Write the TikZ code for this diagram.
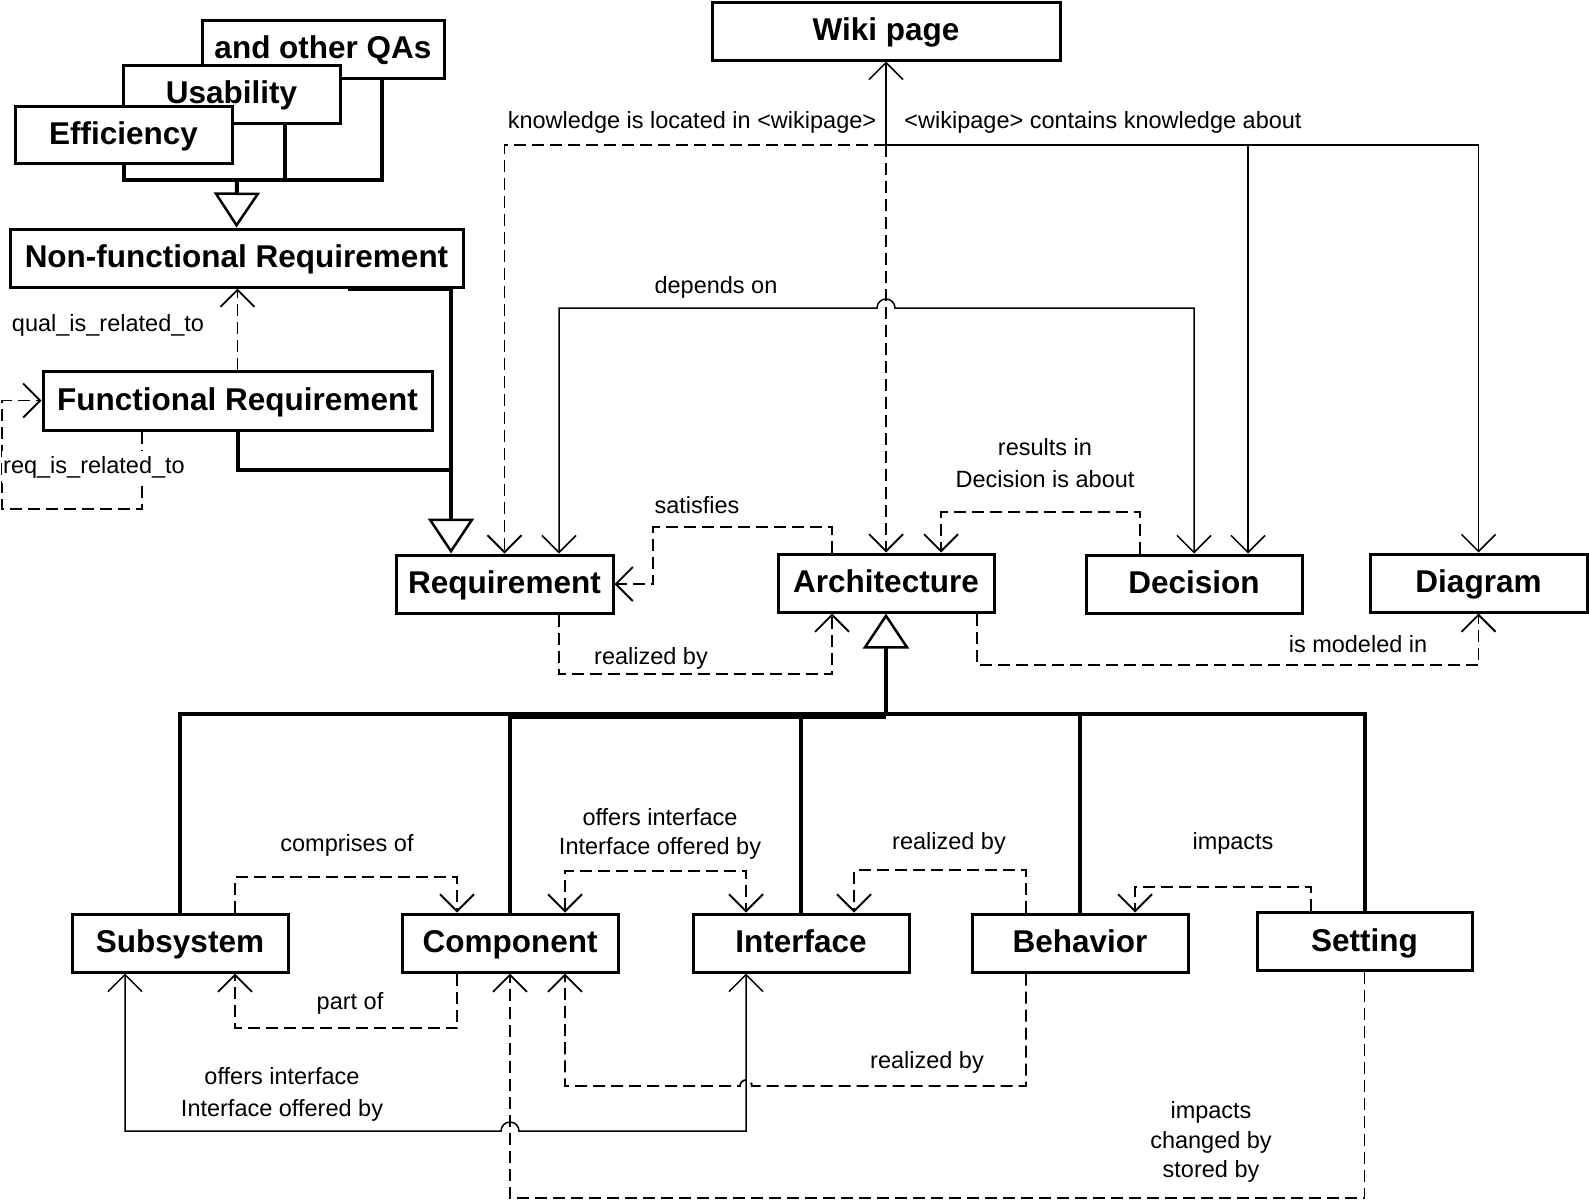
\documentclass[tikz,border=0pt]{standalone}
\usepackage{fontspec}
\setmainfont{Liberation Sans}
\usetikzlibrary{arrows.meta}
\begin{document}
\begin{tikzpicture}[x=1pt,y=-1pt,
  box/.style={draw, line width=3pt, fill=white, inner sep=0pt,
    minimum width=216pt, minimum height=58pt,
    font=\bfseries\fontsize{31.5}{36}\selectfont, text height=22pt, text depth=2.5pt},
  lbl/.style={inner sep=0pt, font=\fontsize{23.5}{30}\selectfont, text height=17pt, text depth=5pt},
  lbls/.style={inner sep=0pt, align=center},
  assoc/.style={line width=1.5pt},
  dep/.style={line width=1.8pt, dash pattern=on 12pt off 6pt},
  genline/.style={line width=4pt},
  nav/.style={-{Straight Barb[length=17pt,width=34pt]}},
  navboth/.style={{Straight Barb[length=17pt,width=34pt]}-{Straight Barb[length=17pt,width=34pt]}},
  genarrow/.style={-{Triangle[open,length=35pt,width=46pt,line width=2.5pt]}},
]
\useasboundingbox (0,0) rectangle (1589,1200);

% ---- classes ----
\node[box, minimum width=242pt] (qas) at (323,49) {and other QAs};
\node[box, minimum width=217pt] (usab) at (231.5,94) {Usability};
\node[box, minimum width=217pt, minimum height=57pt] (eff) at (123.5,134.5) {Efficiency};
\node[box, minimum width=453pt] (nfr) at (236.5,258) {Non-functional Requirement};
\node[box, minimum width=389pt, minimum height=59pt] (fr) at (237.5,400.5) {Functional Requirement};
\node[box, minimum width=348pt] (wiki) at (886,31) {Wiki page};
\node[box, minimum width=217pt] (req) at (504.5,584) {Requirement};
\node[box] (arch) at (886,583) {Architecture};
\node[box] (dec) at (1194,584) {Decision};
\node[box, minimum width=217pt] (diag) at (1478.5,583) {Diagram};
\node[box] (sub) at (180,943) {Subsystem};
\node[box] (comp) at (510,943) {Component};
\node[box] (intf) at (801,943) {Interface};
\node[box] (beh) at (1080,943) {Behavior};
\node[box, minimum width=215pt] (set) at (1364.5,941.5) {Setting};

% ---- generalisations ----
\coordinate (qj) at (237,180);
\draw[genline] (eff.south) |- (qj);
\draw[genline] ([xshift=53.5pt]usab.south) |- (qj);
\draw[genline] ([xshift=59pt]qas.south) |- (qj);
\draw[genline, genarrow] (qj) -- (nfr.north);

\coordinate (gj) at (451,470);
\draw[genline] (fr.south) |- (gj);
\draw[genline, genarrow] ([xshift=111.5pt]nfr.south) -| (gj) -- (req.north -| gj);

\coordinate (bus) at (886,714);
\coordinate (bus2) at ([yshift=-3pt]bus);
\draw[genline, genarrow] (bus) -- (arch.south);
\draw[genline] (sub.north) |- (bus);
\draw[genline] (set.north) |- (bus);
\draw[genline] (comp.north) -- (comp.north |- bus);
\draw[genline] (intf.north) -- (intf.north |- bus);
\draw[genline] (beh.north) -- (beh.north |- bus);
\draw[genline] (bus2) -- (bus2 -| comp.north);

% ---- requirement relations ----
\draw[dep, nav] (fr.north) -- (fr.north |- nfr.south);
\coordinate (rl) at (2,509);
\draw[dep, nav] ([xshift=-95.5pt]fr.south) |- (rl) |- (fr.west);

% ---- wiki page ----
\coordinate (wj) at (886,145);
\draw[assoc, nav] (wj) -- (wiki.south);
\draw[dep, nav] (wj) -| (req.north);
\draw[dep, nav] (wj) -- (arch.north);
\draw[assoc, nav] (wj) -| (diag.north);
\coordinate (dw) at ([xshift=54pt]dec.north);
\draw[assoc, nav] (wj -| dw) -- (dw);

% ---- depends on (hops over the architecture link) ----
\coordinate (rd) at ([xshift=54.5pt]req.north);
\coordinate (hp) at (877,308);
\draw[assoc, navboth] (rd) |- (hp) arc[start angle=180, end angle=0, radius=9pt] -| (dec.north);

% ---- requirement / architecture / decision / diagram ----
\coordinate (sj) at (653,527);
\draw[dep, nav] ([xshift=-54pt]arch.north) |- (sj) |- (req.east);
\coordinate (rb) at (832,674);
\draw[dep, nav] ([xshift=54.5pt]req.south) |- (rb) -- ([xshift=-54pt]arch.south);
\coordinate (da) at (941,512);
\draw[dep, nav] ([xshift=-54pt]dec.north) |- (da) -- ([xshift=55pt]arch.north);
\coordinate (im) at (1478.5,665);
\draw[dep, nav] ([xshift=91pt]arch.south) |- (im) -- (diag.south);

% ---- architecture elements ----
\coordinate (cp) at (457,877);
\draw[dep, nav] ([xshift=55pt]sub.north) |- (cp) -- ([xshift=-53pt]comp.north);
\coordinate (po) at (235,1028);
\draw[dep, nav] ([xshift=-53pt]comp.south) |- (po) -- ([xshift=55pt]sub.south);
\coordinate (oi) at (565,871);
\draw[dep, navboth] ([xshift=55pt]comp.north) -- (oi) -| ([xshift=-55pt]intf.north);
\coordinate (rz) at (854,870);
\draw[dep, nav] ([xshift=-54pt]beh.north) |- (rz) -- ([xshift=53pt]intf.north);
\coordinate (ip) at (1135,887);
\draw[dep, nav] ([xshift=-53.5pt]set.north) |- (ip) -- ([xshift=55pt]beh.north);

\coordinate (h1) at (501,1131);
\draw[assoc, navboth] ([xshift=-55pt]sub.south) |- (h1)
  arc[start angle=180, end angle=0, radius=9pt] -| ([xshift=-55pt]intf.south);
\coordinate (h2) at (752,1086);
\draw[dep, nav] ([xshift=-54pt]beh.south) |- (h2)
  arc[start angle=0, end angle=180, radius=6pt] -| ([xshift=55pt]comp.south);
\coordinate (sc) at (1364.5,1198);
\draw[dep, nav] (set.south) |- (comp.south |- sc) -- (comp.south);

% ---- labels ----
\node[lbl] (t1) at (692,122) {knowledge is located in <wikipage>};
\node[lbl] (t2) at (1103,122) {<wikipage> contains knowledge about};
\node[lbl] (t3) at (716,287) {depends on};
\node[lbl] (t4) at (697,507) {satisfies};
\node[lbl] (t5) at (651,658) {realized by};
\node[lbls, font=\fontsize{23.5}{32}\selectfont] (t6) at (1045,463) {results in\\Decision is about};
\node[lbl] (t7) at (1358,646) {is modeled in};
\node[lbl] (t8) at (108,325) {qual\_is\_related\_to};
\node[lbl, fill=white, inner xsep=1pt, inner ysep=5pt] (t9) at (94,467) {req\_is\_related\_to};
\node[lbl] (t10) at (347,845) {comprises of};
\node[lbls, font=\fontsize{23.5}{29}\selectfont] (t11) at (660,833.5) {offers interface\\Interface offered by};
\node[lbl] (t12) at (949,843) {realized by};
\node[lbl] (t13) at (1233,843) {impacts};
\node[lbl] (t14) at (350,1003) {part of};
\node[lbls, font=\fontsize{23.5}{32}\selectfont] (t15) at (282,1094) {offers interface\\Interface offered by};
\node[lbl] (t16) at (927,1062) {realized by};
\node[lbls, font=\fontsize{23.5}{29.5}\selectfont] (t17) at (1211,1142) {impacts\\changed by\\stored by};
\end{tikzpicture}
\end{document}
